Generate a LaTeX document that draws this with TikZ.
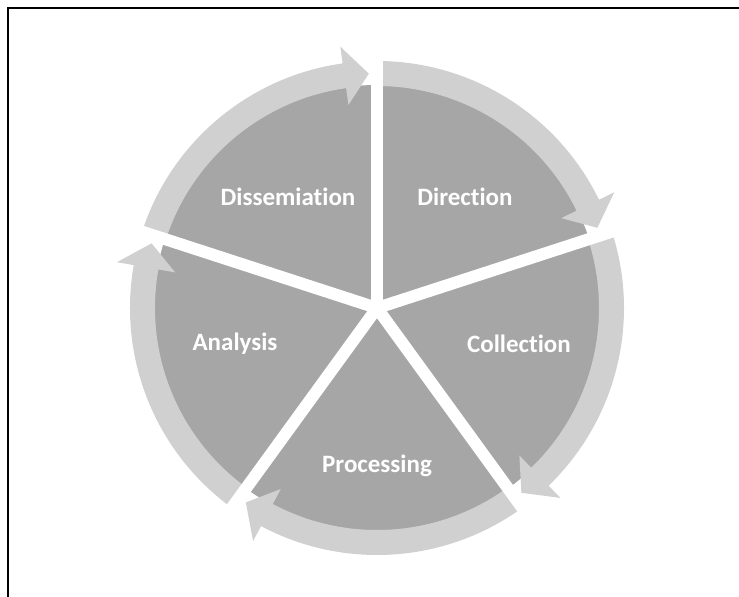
\documentclass[tikz,border=0pt]{standalone}
\usepackage{fontspec}
\setmainfont[Ligatures=NoCommon]{Carlito}
\usepackage{xcolor}
\usetikzlibrary{calc}
\definecolor{piegray}{HTML}{A6A6A6}
\definecolor{bandgray}{HTML}{D0D0D0}
\tikzset{
  phase/.style={text=white,font=\bfseries\fontsize{25}{30}\selectfont},
  band/.style={fill=bandgray},
  gap/.style={white,line width=12pt}
}

\begin{document}
\begin{tikzpicture}[x=1pt,y=1pt]
\useasboundingbox (-377,-289) rectangle (362,308);
\draw[line width=2.5pt] (-369,-289) -- (-369,300) -- (362,300);
\coordinate (hub) at (0,0);
\fill[piegray] (hub) circle[radius=223];
% curved arrows, clockwise, one per phase
\foreach \s/\e in {90/18,18/-54,-54/-126,-126/-198,162/90}{
  \fill[band] (\s:222) arc[start angle=\s,end angle={\e+8},radius=222] -- ({\e+8}:205) -- ({\e+2}:234.5) -- ({\e+8}:264) -- ({\e+8}:247) arc[start angle={\e+8},end angle=\s,radius=247] -- cycle;
}
\foreach \a in {90,18,-54,-126,162}{\draw[gap] (hub) -- (\a:280);}
\node[phase] (dissem) at (-89,111) {Dissemiation};
\node[phase] (direction) at (88,111) {Direction};
\node[phase] (collection) at (142,-36) {Collection};
\node[phase] (analysis) at (-142,-36) {Analysis};
\node[phase] (processing) at (0,-158) {Processing};
\end{tikzpicture}
\end{document}
